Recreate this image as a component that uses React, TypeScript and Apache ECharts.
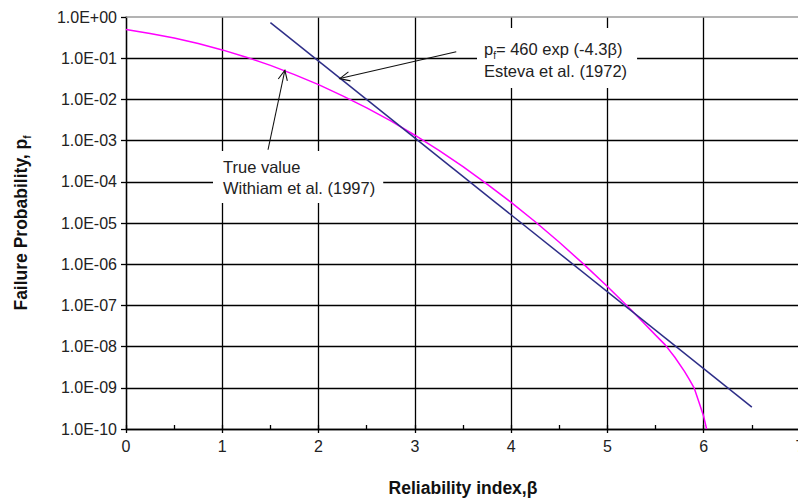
import React, { useEffect, useRef } from "react";
import * as echarts from "echarts";

// True value (Withiam et al. 1997)
const betaTrue = [0, 0.25, 0.5, 0.75, 1.0, 1.25, 1.5, 1.75, 2.0, 2.25, 2.5, 2.75, 3.0, 3.25, 3.5, 3.75, 4.0, 4.25, 4.5, 4.75, 5.0, 5.25, 5.5, 5.6, 5.7, 5.8, 5.85, 5.9, 5.95, 6.0, 6.03];
const pfTrue = [0.5, 0.4, 0.31, 0.227, 0.159, 0.106, 0.067, 0.040, 0.0228, 0.0122, 0.0062, 0.0030, 0.00135, 5.8e-4, 2.33e-4, 8.8e-5, 3.17e-5, 1.07e-5, 3.4e-6, 1.02e-6, 2.87e-7, 7.6e-8, 1.9e-8, 1.1e-8, 5.5e-9, 2.5e-9, 1.6e-9, 1.0e-9, 4.5e-10, 2.0e-10, 1.0e-10];

// Esteva et al. (1972) line end points
const betaEsteva = [1.5, 6.5];
const pfEsteva = [0.73, 3.4e-10];

// axis ranges
const xMin = 0;
const xMax = 7;
const yMin = 1e-10;
const yMax = 1;

// annotation arrows (tail, tip) in data coordinates
const arrowTrue = [[1.475, 6.0e-4], [1.65, 0.051]];
const arrowEsteva = [[3.43, 0.144], [2.22, 0.032]];

const FONT = "Liberation Sans";

function fmtLog(v: number) {
  const e = Math.round(Math.log10(v));
  return "1.0E" + (e < 0 ? "-" : "+") + String(Math.abs(e)).padStart(2, "0");
}

export default function App() {
  const ref = useRef<HTMLDivElement>(null);
  useEffect(() => {
    const chart = echarts.init(ref.current!, null, { renderer: "svg" });
    const black = "#000";
    chart.setOption({
      animation: false,
      grid: { left: 126, top: 17, width: 674, height: 412, containLabel: false, outerBoundsMode: "none" },
      xAxis: [
        {
          type: "value",
          min: xMin,
          max: xMax,
          interval: 1,
          name: "Reliability index,β",
          nameLocation: "middle",
          nameGap: 50,
          nameTextStyle: { fontFamily: FONT, fontSize: 17.5, fontWeight: "bold", color: "#111" },
          axisLine: { show: true, onZero: false, lineStyle: { color: black, width: 1.3 } },
          axisTick: { show: true, inside: false, length: 4, lineStyle: { color: black, width: 1.3 } },
          axisLabel: { fontFamily: FONT, fontSize: 16, color: "#222", margin: 9 },
          splitLine: { show: true, lineStyle: { color: black, width: 1.3 } },
        },
        {
          type: "value",
          min: xMin,
          max: xMax,
          interval: 0.5,
          position: "bottom",
          axisLine: { show: false },
          axisTick: { show: true, inside: true, length: 4, lineStyle: { color: black, width: 1.3 } },
          axisLabel: { show: false },
          splitLine: { show: false },
        },
        {
          type: "value",
          min: xMin,
          max: xMax,
          position: "top",
          axisLine: { show: true, lineStyle: { color: "#9a9a9a", width: 1.5 } },
          axisTick: { show: false },
          axisLabel: { show: false },
          splitLine: { show: false },
        },
      ],
      yAxis: {
        type: "log",
        logBase: 10,
        min: yMin,
        max: yMax,
        interval: 1,
        name: "{t|Failure Probability, p}{s|f}",
        nameLocation: "middle",
        nameGap: 94,
        nameTextStyle: {
          rich: {
            t: { fontFamily: FONT, fontSize: 17.5, fontWeight: "bold", color: "#111", lineHeight: 22 },
            s: { fontFamily: FONT, fontSize: 10, fontWeight: "bold", color: "#111", lineHeight: 16, verticalAlign: "bottom" },
          },
        },
        axisLine: { show: true, lineStyle: { color: black, width: 1.3 } },
        axisTick: { show: true, inside: false, length: 5, lineStyle: { color: black, width: 1.3 } },
        axisLabel: { fontFamily: FONT, fontSize: 16, color: "#222", margin: 9, formatter: fmtLog },
        splitLine: { show: true, showMaxLine: false, lineStyle: { color: black, width: 1.3 } },
      },
      series: [
        {
          type: "line",
          xAxisIndex: 0,
          data: betaTrue.map((b, i) => [b, pfTrue[i]]),
          showSymbol: false,
          smooth: false,
          lineStyle: { color: "#FF00FF", width: 1.5 },
          z: 3,
        },
        {
          type: "line",
          xAxisIndex: 0,
          data: betaEsteva.map((b, i) => [b, pfEsteva[i]]),
          showSymbol: false,
          lineStyle: { color: "#2E2E88", width: 1.5 },
          z: 4,
        },
      ],
    });

    const toPx = (p: number[]) => chart.convertToPixel({ gridIndex: 0 }, p) as number[];
    const arrow = (a: number[][]) => {
      const t = toPx(a[0]);
      const h = toPx(a[1]);
      const ang = Math.atan2(t[1] - h[1], t[0] - h[0]);
      const L = 11;
      const d = (25 * Math.PI) / 180;
      const p1 = [h[0] + L * Math.cos(ang + d), h[1] + L * Math.sin(ang + d)];
      const p2 = [h[0] + L * Math.cos(ang - d), h[1] + L * Math.sin(ang - d)];
      const st = { stroke: "#111", lineWidth: 1.1, fill: "none" };
      return [
        { type: "line", z: 120, shape: { x1: t[0], y1: t[1], x2: h[0], y2: h[1] }, style: st },
        { type: "polyline", z: 120, shape: { points: [p1, h, p2] }, style: st },
      ];
    };

    chart.setOption({
      graphic: [
        {
          type: "text",
          z: 100,
          x: 213,
          y: 151,
          style: {
            text: "True value\nWithiam et al. (1997)",
            font: "16.5px " + FONT,
            lineHeight: 21,
            fill: "#222",
            backgroundColor: "#fff",
            padding: [5, 8, 5, 10],
            align: "left",
            verticalAlign: "top",
          },
        },
        {
          type: "text",
          z: 100,
          x: 477,
          y: 28,
          style: {
            text: "{t|p}{s|f}{t|= 460 exp (-4.3β)}\n{t|Esteva et al. (1972)}",
            rich: {
              t: { font: "16.5px " + FONT, fill: "#222", lineHeight: 22 },
              s: { font: "10px " + FONT, fill: "#222", lineHeight: 15, verticalAlign: "bottom" },
            },
            backgroundColor: "#fff",
            padding: [10, 10, 6, 7],
            align: "left",
            verticalAlign: "top",
          },
        },
        ...arrow(arrowTrue),
        ...arrow(arrowEsteva),
      ],
    });

    return () => chart.dispose();
  }, []);

  return (
    <div
      ref={ref}
      style={{ position: "absolute", left: 0, top: 0, width: 798, height: 498, overflow: "hidden", background: "#fff" }}
    />
  );
}
